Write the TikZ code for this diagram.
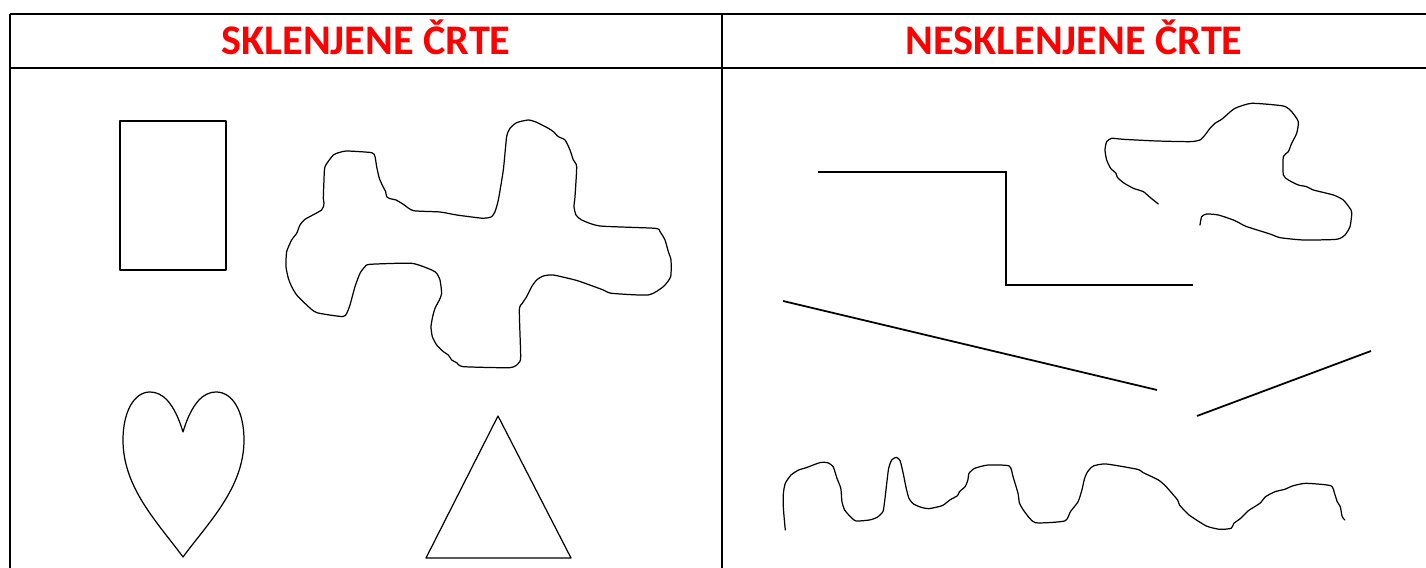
\documentclass[tikz,border=0pt]{standalone}
\usepackage{fontspec}
\setmainfont{Carlito}
\usepackage{tikz}
\usetikzlibrary{positioning,calc}
\definecolor{CTRed}{HTML}{FF0000}
\definecolor{CTInk}{HTML}{000000}
\tikzset{
  ctgrid/.style={draw=CTInk,line width=0.6pt},
  cthead/.style={font=\fontsize{12}{14}\selectfont\bfseries,text=CTRed,anchor=base,inner sep=0pt},
  ctthin/.style={draw=CTInk,line width=0.35pt,line join=round},
  ctline/.style={draw=CTInk,line width=0.5pt},
  ctfree/.style={ctthin,line cap=round},
}

\begin{document}
\begin{tikzpicture}[x=0.01cm,y=-0.01cm]
  \useasboundingbox (0,0) rectangle (1426,568);

  % table
  \draw[ctgrid] (10,14) -- (1426,14);
  \draw[ctgrid] (10,68) -- (1426,68);
  \draw[ctgrid] (10,14) -- (10,568);
  \draw[ctgrid] (722,14) -- (722,568);

  \node[cthead] (closed) at (366,55) {SKLENJENE ČRTE};
  \node[cthead] (open) at (1074,55) {NESKLENJENE ČRTE};

  % closed lines
  \draw[ctthin] (120,121) rectangle (226,270);

  \draw[ctthin] (183,432)
    .. controls (174,402) and (162,392) .. (150,392)
    .. controls (134,392) and (123,412) .. (123,440)
    .. controls (123,488) and (158,523) .. (183,557)
    .. controls (208,523) and (244,488) .. (244,440)
    .. controls (244,412) and (233,392) .. (216,392)
    .. controls (204,392) and (192,402) .. (183,432) -- cycle;

  \draw[ctthin] (498,416) -- (426,558) -- (571,558) -- cycle;

  \begin{scope}[shift={(270,100)},scale=1/3]
    \draw[ctthin] plot[smooth cycle,tension=0.35] coordinates {
      (165,200) (190,165) (210,157) (230,153) (305,158) (315,170) (320,200)
      (328,235) (340,262) (347,275) (350,290) (360,296) (378,300) (400,313)
      (430,332) (510,336) (560,345) (640,355) (665,350) (675,335) (685,300)
      (700,210) (710,110) (720,85) (740,68) (775,60) (800,67) (835,85)
      (850,95) (865,110) (885,120) (900,150) (910,180) (920,200) (915,290)
      (912,320) (918,345) (935,360) (990,378) (1155,385) (1170,395) (1185,420)
      (1195,455) (1203,480) (1202,530) (1180,560) (1135,585) (1025,580)
      (1000,570) (940,548) (915,540) (850,525) (820,528) (800,540) (785,560)
      (770,590) (757,610) (748,630) (752,770) (745,790) (720,803) (580,800)
      (560,788) (545,780) (535,765) (520,755) (500,735) (487,710) (483,680)
      (488,650) (495,625) (508,600) (515,580) (510,540) (500,520) (485,510)
      (425,490) (300,493) (285,500) (270,520) (255,560) (240,615) (230,640)
      (218,650) (140,638) (110,615) (80,585) (65,560) (55,535) (48,500)
      (50,455) (65,420) (80,400) (90,375) (105,358) (155,330) (162,310)
      (160,295) (162,240)};
  \end{scope}

  % open lines
  \draw[ctline] (818,172) -- (1006,172) -- (1006,285) -- (1193,285);
  \draw[ctline] (783,301) -- (1157,390);
  \draw[ctline] (1197,416) -- (1371,351);

  \begin{scope}[shift={(1090,90)},scale=1/3]
    \draw[ctfree] plot[smooth,tension=0.35] coordinates {
      (205,342) (180,322) (160,305) (130,295) (100,278) (82,262) (78,250)
      (62,235) (50,210) (45,180) (50,155) (65,145) (100,148) (200,153)
      (300,155) (330,150) (345,135) (360,115) (375,100) (395,88) (410,75)
      (435,55) (485,40) (580,48) (605,65) (625,95) (620,130) (605,160)
      (595,185) (580,200) (580,255) (595,270) (625,285) (650,290) (670,300)
      (730,315) (760,330) (783,360) (785,375) (780,410) (765,435) (740,448)
      (640,450) (570,443) (540,432) (470,410) (450,400) (430,390) (385,375)
      (350,372) (335,380) (330,405)};
  \end{scope}

  \begin{scope}[shift={(770,440)},xscale=1/2.613,yscale=1/3]
    \draw[ctfree] plot[smooth,tension=0.35] coordinates {
      (40,270) (35,205) (35,160) (40,130) (55,105) (75,90) (95,83) (130,68)
      (150,68) (165,80) (175,115) (185,145) (188,185) (195,210) (210,230)
      (225,243) (260,240) (280,232) (295,215) (300,180) (305,130) (310,85)
      (318,60) (330,52) (340,62) (348,100) (355,140) (363,175) (375,192)
      (395,202) (415,206) (450,197) (470,180) (490,167) (495,155) (510,140)
      (517,120) (520,100) (535,85) (570,75) (625,78) (635,110) (648,160)
      (652,190) (665,215) (693,248) (770,243) (785,215) (805,185) (815,150)
      (822,115) (830,95) (845,78) (878,72) (960,88) (975,98) (1015,120)
      (1035,140) (1065,180) (1070,195) (1095,225) (1140,258) (1175,268)
      (1205,265) (1212,250) (1230,235) (1250,212) (1280,190) (1295,170)
      (1320,155) (1345,148) (1365,138) (1400,130) (1465,137) (1475,160)
      (1482,185) (1490,200) (1495,230) (1502,240)};
  \end{scope}
\end{tikzpicture}
\end{document}
